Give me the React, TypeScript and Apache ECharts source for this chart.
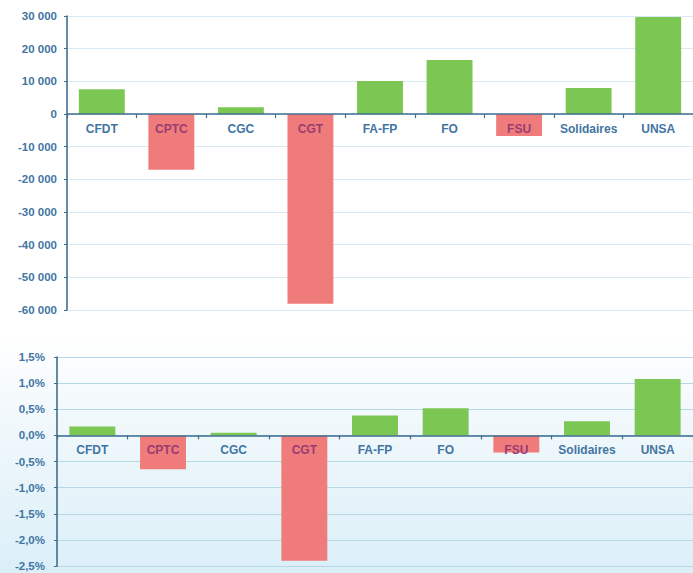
import React, { useEffect, useRef } from "react";
import * as echarts from "echarts";

const categories = ["CFDT", "CPTC", "CGC", "CGT", "FA-FP", "FO", "FSU", "Solidaires", "UNSA"];
const voixValues = [7600, -17100, 2100, -58100, 10100, 16500, -6700, 7950, 29700];
const pointsValues = [0.17, -0.65, 0.05, -2.4, 0.38, 0.52, -0.33, 0.27, 1.08];

const voixMin = -60000;
const voixMax = 30000;
const voixStep = 10000;
const pctMin = -2.5;
const pctMax = 1.5;
const pctStep = 0.5;

const GREEN = "#7cc653";
const RED = "#f07b7b";
const AXIS = "#3f6f8f";
const LABEL = "#4275a3";
const LABEL_ON_RED = "#9a3c72";

// layout of the two plot areas (pixels)
const TOP_G = { left: 67, top: 16, height: 294, right: -4 };
const BOT_G = { left: 57, top: 357, height: 209, right: -7 };
// offset that moves the category axis from the bottom edge to the zero line
const topOffset = -(TOP_G.height * (-voixMin) / (voixMax - voixMin));
const botOffset = -(BOT_G.height * (-pctMin) / (pctMax - pctMin));

function fmtThousands(v: number): string {
  const s = Math.abs(v).toString().replace(/\B(?=(\d{3})+(?!\d))/g, " ");
  return (v < 0 ? "-" : "") + s;
}
function fmtPct(v: number): string {
  return v.toFixed(1).replace(".", ",") + "%";
}

export default function App() {
  const ref = useRef<HTMLDivElement>(null);
  useEffect(() => {
    if (!ref.current) return;
    const chart = echarts.init(ref.current, null, { renderer: "svg" });
    const catLabelColor = (arr: number[]) => (v: any) => (arr[categories.indexOf(v)] < 0 ? LABEL_ON_RED : LABEL);
    const barColor = (arr: number[]) => (p: any) => (arr[p.dataIndex] < 0 ? RED : GREEN);
    const catAxis = (gridIndex: number, offset: number, arr: number[]) => ({
      type: "category",
      gridIndex,
      data: categories,
      position: "bottom",
      offset,
      z: 5,
      axisLine: { onZero: false, lineStyle: { color: AXIS, width: 1.6 } },
      axisTick: { show: true, length: 4, inside: false, interval: 0, lineStyle: { color: AXIS, width: 1.2 } },
      axisLabel: {
        interval: 0,
        hideOverlap: false,
        margin: 9,
        fontSize: 12,
        fontWeight: "bold",
        fontFamily: "Liberation Sans",
        color: catLabelColor(arr),
      },
    });
    const valAxis = (gridIndex: number, min: number, max: number, interval: number, fmt: (v: number) => string, margin: number, split: string) => ({
      type: "value",
      gridIndex,
      min,
      max,
      interval,
      axisLine: { show: true, onZero: false, lineStyle: { color: AXIS, width: 1.6 } },
      axisTick: { show: true, length: 3, lineStyle: { color: AXIS } },
      axisLabel: {
        margin,
        fontSize: 11.5,
        fontWeight: "bold",
        fontFamily: "Liberation Sans",
        color: LABEL,
        formatter: fmt,
      },
      splitLine: { show: true, lineStyle: { color: split, width: 1.2 } },
    });
    chart.setOption({
      animation: false,
      backgroundColor: "#ffffff",
      graphic: [
        {
          type: "rect",
          z: -10,
          silent: true,
          shape: { x: 0, y: 335, width: 693, height: 238 },
          style: {
            fill: new echarts.graphic.LinearGradient(0, 0, 0, 1, [
              { offset: 0, color: "#ffffff" },
              { offset: 0.3, color: "#f3f9fc" },
              { offset: 1, color: "#dbeff8" },
            ]),
          },
        },
      ],
      grid: [TOP_G, BOT_G],
      xAxis: [catAxis(0, topOffset, voixValues), catAxis(1, botOffset, pointsValues)],
      yAxis: [
        valAxis(0, voixMin, voixMax, voixStep, fmtThousands, 10, "#d8e9f1"),
        valAxis(1, pctMin, pctMax, pctStep, fmtPct, 12, "#b5d8e6"),
      ],
      series: [
        {
          type: "bar",
          xAxisIndex: 0,
          yAxisIndex: 0,
          data: voixValues,
          barWidth: "66%",
          itemStyle: { color: barColor(voixValues) },
        },
        {
          type: "bar",
          xAxisIndex: 1,
          yAxisIndex: 1,
          data: pointsValues,
          barWidth: "65%",
          itemStyle: { color: barColor(pointsValues) },
        },
      ],
    });
    return () => chart.dispose();
  }, []);
  return (
    <div
      ref={ref}
      style={{ position: "fixed", left: 0, top: 0, width: 693, height: 573 }}
    />
  );
}
